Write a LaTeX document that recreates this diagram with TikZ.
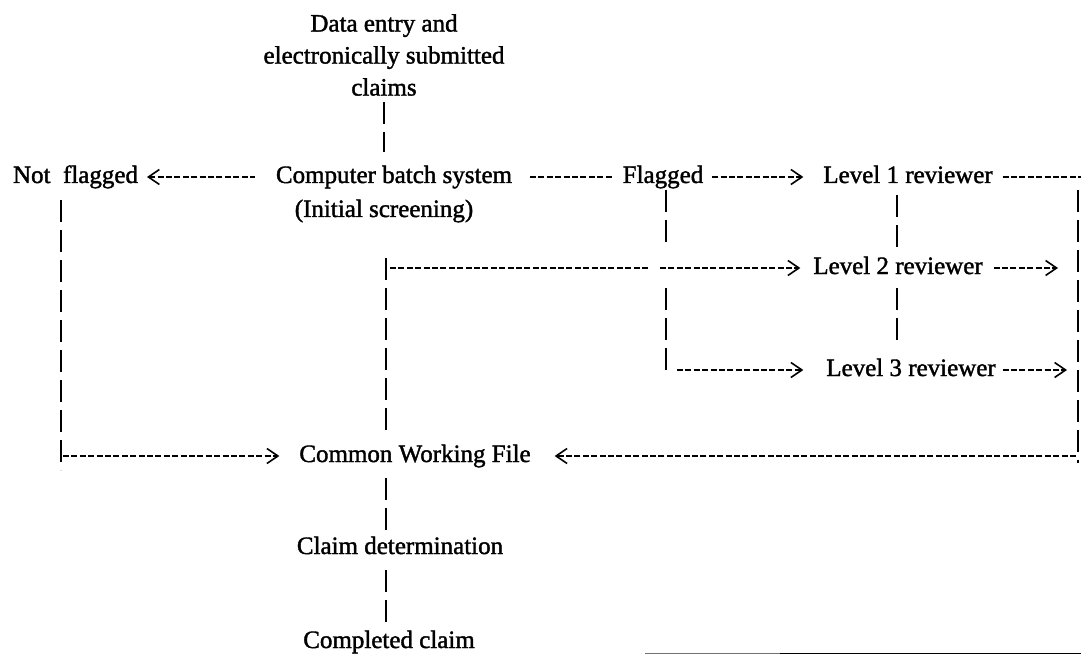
\documentclass[tikz,border=0pt]{standalone}
\usepackage{fontspec}
\setmainfont{Liberation Serif}[FakeBold=1.5]
\usetikzlibrary{arrows.meta}
\begin{document}
\begin{tikzpicture}[x=1pt,y=-1pt,
  lbl/.style={inner sep=0pt, outer sep=0pt, text height=17pt, text depth=5pt, font=\fontsize{25}{32}\selectfont},
  multi/.style={inner sep=0pt, outer sep=0pt, align=center, font=\fontsize{25}{32}\selectfont},
  pipe/.style={line width=1.5pt, dash pattern=on 22pt off 8pt},
  dsh/.style={line width=2pt, dash pattern=on 6pt off 2.4pt},
  tip/.style={-{Straight Barb[length=11pt,width=15pt,line width=1.6pt]}},
  tipl/.style={{Straight Barb[length=11pt,width=15pt,line width=1.6pt]}-},
]
\path[use as bounding box, fill=white] (0,0) rectangle (1081,655);

% nodes
\node[multi] (data) at (384,55) {Data entry and\\electronically submitted\\claims};
\node[lbl] (cbs) at (394,177) {Computer batch system};
\node[lbl] (cbsnote) at (384,211) {(Initial screening)};
\node[lbl] (notf) at (75.5,177) {Not\hspace{0.5em}flagged};
\node[lbl] (flg) at (663,177) {Flagged};
\node[lbl] (l1) at (908,177) {Level 1 reviewer};
\node[lbl] (l2) at (898,268) {Level 2 reviewer};
\node[lbl] (l3) at (911,370) {Level 3 reviewer};
\node[lbl] (cwf) at (415,456) {Common Working File};
\node[lbl] (cd) at (400,548) {Claim determination};
\node[lbl] (cc) at (389,642) {Completed claim};

% named points
\coordinate (colM) at (386,258);
\coordinate (colF) at (666,190);
\coordinate (col1) at (897,177);
\coordinate (colL) at (61,200);
\coordinate (botL) at (61,470);
\coordinate (colR) at (1078,190);
\coordinate (botR) at (1078,463);
\coordinate (endR) at (1081,177);

% top
\draw[pipe, shorten <=6pt, shorten >=14pt] (data.south) -- (data.south |- cbs.north);

% row A
\draw[dsh, tipl, shorten <=9pt, shorten >=21pt] (notf.east) -- (cbs.west);
\draw[dsh, shorten <=18pt, shorten >=10pt] (cbs.east) -- (flg.west);
\draw[dsh, tip, shorten <=9pt, shorten >=20pt] (flg.east) -- (l1.west);
\draw[dsh, shorten <=10pt] (l1.east) -- (endR);

% left loop
\draw[pipe] (colL) -- (botL);
\draw[dsh, tip, shorten <=2pt, shorten >=20pt] (botL |- cwf) -- (cwf.west);

% middle column and level 2 row
\draw[pipe, shorten >=8pt] (colM) -- (colM |- cwf.north);
\draw[dsh] ([xshift=4pt]colM |- l2) -- ([xshift=-18pt]colF |- l2);
\draw[dsh, tip, shorten >=13pt] ([xshift=-6pt]colF |- l2) -- (l2.west);

% flagged column and level 3 row
\draw[pipe, shorten >=9pt] (colF) -- (colF |- l2.north);
\draw[pipe, shorten <=9pt, shorten >=6pt] (colF |- l2.south) -- (colF |- l3.south);
\draw[dsh, tip, shorten <=11pt, shorten >=23pt] (colF |- l3) -- (l3.west);

% level 1 column
\draw[pipe, shorten <=18pt, shorten >=10pt] (col1) -- (col1 |- l2.north);
\draw[pipe, shorten <=9pt, shorten >=19pt] (col1 |- l2.south) -- (col1 |- l3.north);

% right bus
\draw[pipe] (colR) -- (botR);
\draw[dsh, tip, shorten <=11pt, shorten >=20pt] (l2.east) -- (l2.east -| colR);
\draw[dsh, tip, shorten <=7pt, shorten >=11pt] (l3.east) -- (l3.east -| colR);
\draw[dsh, tip, shorten <=2pt, shorten >=24pt] (colR |- cwf) -- (cwf.east);

% bottom chain
\draw[pipe, shorten <=11pt, shorten >=7pt] (colM |- cwf.south) -- (colM |- cd.north);
\draw[pipe, shorten <=11pt, shorten >=8pt] (colM |- cd.south) -- (colM |- cc.north);

% page edge line
\draw[line width=1.4pt, black!55] (645,653.5) -- (780,653.5);
\draw[line width=1.8pt] (780,653.5) -- (1081,653.5);
\end{tikzpicture}
\end{document}
